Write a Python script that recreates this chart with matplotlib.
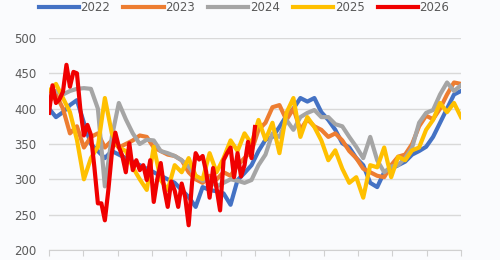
import numpy as np
import matplotlib
matplotlib.use('Agg')
import matplotlib.pyplot as plt

plt.rcParams['savefig.bbox'] = 'standard'

# Weekly price index by year
years = ['2022', '2023', '2024', '2025', '2026']
colors = ['#4472C4', '#ED7D31', '#A5A5A5', '#FFC000', '#F00000']

v2022 = [400, 388, 395, 405, 412, 380, 350, 340, 330, 340, 335, 330, 325, 320, 315,
         310, 305, 300, 295, 285, 275, 261, 289, 285, 283, 280, 264, 299, 309, 320,
         340, 356, 360, 374, 390, 400, 415, 410, 415, 395, 384, 370, 351, 345, 330,
         320, 295, 289, 310, 315, 320, 325, 335, 340, 346, 360, 380, 400, 420, 425]
v2023 = [410, 420, 400, 365, 375, 345, 360, 365, 345, 355, 345, 350, 355, 362, 360,
         345, 340, 335, 333, 327, 310, 300, 295, 305, 300, 310, 305, 320, 330, 340,
         370, 380, 402, 405, 384, 400, 370, 385, 375, 370, 360, 365, 355, 340, 330,
         315, 310, 305, 303, 320, 332, 335, 350, 375, 390, 385, 400, 420, 437, 435]
v2024 = [415, 425, 420, 425, 428, 429, 428, 400, 290, 360, 408, 385, 365, 350, 356,
         355, 340, 337, 333, 327, 318, 305, 298, 300, 290, 295, 300, 298, 295, 299,
         320, 335, 365, 360, 384, 370, 388, 394, 398, 388, 388, 378, 375, 360, 346,
         330, 360, 327, 310, 318, 320, 330, 345, 380, 394, 398, 420, 437, 425, 433]
v2025 = [425, 435, 415, 395, 356, 300, 330, 346, 415, 365, 345, 340, 317, 300, 285,
         346, 299, 285, 320, 310, 330, 305, 300, 337, 310, 330, 355, 340, 365, 350,
         384, 356, 380, 337, 394, 415, 360, 388, 374, 355, 327, 341, 315, 295, 303,
         274, 320, 317, 345, 303, 332, 327, 341, 345, 370, 384, 408, 395, 408, 388]
v2026 = [394, 433, 408, 413, 424, 462, 431, 452, 450, 398, 362, 377, 363, 317, 266,
         266, 242, 285, 337, 366, 346, 333, 310, 351, 313, 327, 313, 320, 299, 327,
         268, 300, 323, 287, 261, 297, 284, 261, 294, 275, 235, 297, 337, 328, 333,
         311, 274, 316, 287, 256, 327, 337, 345, 303, 337, 304, 320, 353, 330, 374]

series = [v2022, v2023, v2024, v2025, v2026]
last_week = [52, 52, 52, 52, 26]

fig = plt.figure(figsize=(5, 2.6), dpi=100, facecolor='#fafbfd')
ax = fig.add_axes([0.098, 0.0385, 0.824, 0.8155])
ax.set_facecolor('#fafbfd')

for name, vals, end, c in zip(years, series, last_week, colors):
    x = np.linspace(0, end, len(vals))
    ax.plot(x, vals, color=c, lw=3, label=name, solid_joinstyle='round')

ax.set_xlim(0, 52)
ax.set_ylim(200, 500)
ax.set_yticks([200, 250, 300, 350, 400, 450, 500])
ax.set_xticks(np.linspace(0, 52, 13))
ax.set_xticklabels([])
ax.grid(axis='y', color='#d9d9d9', lw=1)
ax.set_axisbelow(True)
for s in ['top', 'right', 'left']:
    ax.spines[s].set_visible(False)
ax.spines['bottom'].set_color('#d0d0d0')
ax.tick_params(axis='x', length=4, color='#d0d0d0')
ax.tick_params(axis='y', length=0, labelsize=8.5, labelcolor='#595959', pad=9)

fig.legend(loc='center', bbox_to_anchor=(0.488, 0.97), ncol=5, frameon=False,
           fontsize=8.5, handlelength=3.4, handletextpad=0.15, columnspacing=1.1,
           labelcolor='#595959')

fig.savefig('out.png', dpi=100, facecolor=fig.get_facecolor())
